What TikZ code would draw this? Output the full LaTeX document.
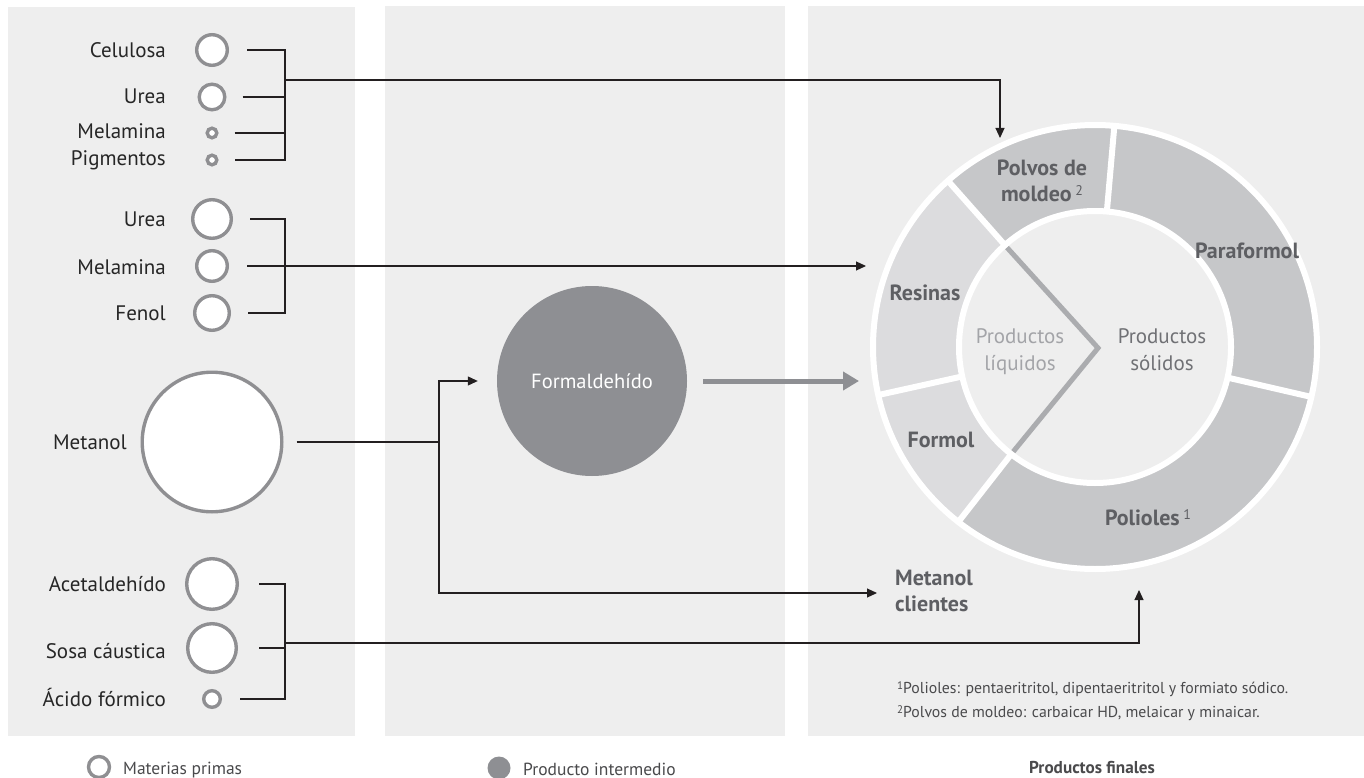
\documentclass[tikz,border=0pt]{standalone}
\usepackage{fontspec}
\setmainfont{PT Sans}
\usetikzlibrary{calc,arrows.meta}
\definecolor{panel}{HTML}{EEEEEE}
\definecolor{ringgray}{HTML}{8F8F92}
\definecolor{midgray}{HTML}{8E8F93}
\definecolor{segdark}{HTML}{C6C7C9}
\definecolor{seglight}{HTML}{DCDCDE}
\definecolor{chev}{HTML}{ABACAF}
\definecolor{labeldark}{HTML}{262626}
\definecolor{seglabel}{HTML}{5E5F63}
\definecolor{liqgray}{HTML}{A3A4A8}
\definecolor{solgray}{HTML}{707175}
\definecolor{footgray}{HTML}{4A4A4C}
\definecolor{linecol}{HTML}{231F20}
\newcommand\ringsup[1]{\raisebox{6pt}{\fontsize{14}{14}\selectfont\mdseries #1}}
\newcommand\footsup[1]{\raisebox{4pt}{\fontsize{11}{11}\selectfont #1}}
\begin{document}
\begin{tikzpicture}[x=1pt,y=1pt,
  raw/.style={circle, draw=ringgray, line width=3.4pt, fill=white, inner sep=0pt, minimum size=#1},
  lab/.style={anchor=base east, inner sep=0pt, text=labeldark, font=\fontsize{21}{24}\selectfont},
  conn/.style={draw=linecol, line width=1.1pt},
  arr/.style={conn, -{Triangle[length=10pt,width=9pt]}},
  seglab/.style={inner sep=0pt, text=seglabel, font=\bfseries\fontsize{22}{26}\selectfont, align=center},
  inlab/.style={inner sep=0pt, font=\fontsize{21}{27}\selectfont, align=center},
  divider/.style={white, line width=6pt},
  foot/.style={anchor=base west, inner sep=0pt, text=footgray, font=\fontsize{15.8}{18}\selectfont},
  leg/.style={anchor=base west, inner sep=0pt, text=footgray, font=\fontsize{17.5}{18}\selectfont}]
\useasboundingbox (0,0) rectangle (1364,-778);
\fill[white] (0,0) rectangle (1364,-778);
\fill[panel] (8,-7) rectangle (355,-736);
\fill[panel] (385,-6) rectangle (785,-736);
\fill[panel] (808,-6) rectangle (1364,-736);

% raw materials
\node[raw=30.6pt] (cel) at (212,-50) {};
\node[raw=25.6pt] (ure1) at (212,-97) {};
\node[raw=9.6pt] (mel1) at (212,-133) {};
\node[raw=9.6pt] (pig) at (212,-160) {};
\node[raw=38.6pt] (ure2) at (212,-219) {};
\node[raw=30.6pt] (mel2) at (212,-266) {};
\node[raw=34.6pt] (fen) at (212,-313) {};
\node[raw=139.6pt] (met) at (212,-442) {};
\node[raw=50.6pt] (ace) at (212,-584) {};
\node[raw=48.6pt] (sos) at (212,-648) {};
\node[raw=16.6pt] (aci) at (212,-699) {};

\node[lab] (lcel) at (166,-58) {Celulosa};
\node[lab] (lure1) at (166,-104) {Urea};
\node[lab] (lmel1) at (166,-139) {Melamina};
\node[lab] (lpig) at (166,-166) {Pigmentos};
\node[lab] (lure2) at (166,-226) {Urea};
\node[lab] (lmel2) at (166,-274) {Melamina};
\node[lab] (lfen) at (166,-320) {Fenol};
\node[lab] (lmet) at (127,-449) {Metanol};
\node[lab] (lace) at (166,-591) {Acetaldehído};
\node[lab] (lsos) at (166,-658) {Sosa cáustica};
\node[lab] (laci) at (166,-706) {Ácido fórmico};

% intermediate
\node[circle, fill=midgray, minimum size=190pt, inner sep=0pt, text=white, font=\fontsize{20.5}{24}\selectfont] (form) at (592,-381) {Formaldehído};

% ring
\coordinate (c) at (1095,-347);
\fill[segdark] (c) circle[radius=222pt];
\fill[seglight] (c) -- ($(c)+(131.5:222pt)$) arc[start angle=131.5, end angle=232, radius=222pt] -- cycle;
\draw[white, line width=6pt] (c) circle[radius=222pt];
\fill[panel] (c) circle[radius=136pt];
\coordinate (tip) at (1098,-348);
\draw[chev, line width=5pt] ($(c)+(131.5:133pt)$) -- (tip) -- ($(c)+(232:133pt)$);
\draw[white, line width=6pt] (c) circle[radius=136pt];
\foreach \a in {85,-13,232,192.5,131.5} \draw[divider] ($(c)+(\a:136pt)$) -- ($(c)+(\a:222pt)$);

\node[inlab, text=liqgray] (pliq) at (1020,-352) {Productos\\líquidos};
\node[inlab, text=solgray] (psol) at (1162,-350) {Productos\\sólidos};
\node[seglab] (spol) at (1042,-181) {Polvos de\\moldeo\,\ringsup{2}};
\node[seglab] (spar) at (1247,-251) {Paraformol};
\node[seglab] (sres) at (925,-293) {Resinas};
\node[seglab] (sfor) at (941,-440) {Formol};
\node[seglab] (spoli) at (1148,-518) {Polioles\,\ringsup{1}};
\node[seglab, anchor=west, align=left] (mcli) at (895,-590.5) {Metanol\\clientes};

% connectors group 1
\coordinate (b1) at (285,-80);
\draw[conn] ([xshift=18pt]cel.east) -- (cel.east -| b1) -- (pig.east -| b1) -- ([xshift=16pt]pig.east);
\draw[conn] ([xshift=16pt]ure1.east) -- (ure1.east -| b1);
\draw[conn] ([xshift=16pt]mel1.east) -- (mel1.east -| b1);
\coordinate (t1) at (1000,-138);
\draw[arr] (b1) -- (b1 -| t1) -- (t1);

% group 2
\coordinate (b2) at (285,-266);
\draw[conn] ([xshift=17pt]ure2.east) -- (ure2.east -| b2) -- (fen.east -| b2) -- ([xshift=17pt]fen.east);
\coordinate (t2) at (866,-266);
\draw[arr] ([xshift=18pt]mel2.east) -- (t2);

% metanol
\coordinate (j) at (439,-442);
\draw[conn] ([xshift=13pt]met.east) -- (j);
\draw[arr] (j) -- (j |- form.west) -- ([xshift=-19pt]form.west);
\coordinate (tmc) at (877,-593);
\draw[arr] (j) -- (j |- tmc) -- (tmc);

% formaldehido to ring
\coordinate (t3) at (859,-381);
\draw[midgray, line width=5pt, -{Triangle[length=16pt,width=18pt]}] ([xshift=16pt]form.east) -- (t3);

% group 3
\coordinate (b3) at (285,-643);
\draw[conn] ([xshift=20pt]ace.east) -- (ace.east -| b3) -- (aci.east -| b3) -- ([xshift=18pt]aci.east);
\draw[conn] ([xshift=21pt]sos.east) -- (sos.east -| b3);
\coordinate (t4) at (1139,-590);
\draw[arr] (b3) -- (b3 -| t4) -- (t4);

% footnotes
\node[foot] (fn1) at (897,-693) {\footsup{1}Polioles: pentaeritritol, dipentaeritritol y formiato sódico.};
\node[foot] (fn2) at (897,-717) {\footsup{2}Polvos de moldeo: carbaicar HD, melaicar y minaicar.};

% legend
\node[circle, draw=ringgray, line width=3.4pt, fill=white, minimum size=21pt, inner sep=0pt] (legraw) at (99,-767) {};
\node[leg] (legrawt) at (123,-774) {Materias primas};
\node[circle, fill=midgray, minimum size=23pt, inner sep=0pt] (legint) at (499,-768) {};
\node[leg] (leginttxt) at (523,-775) {Producto intermedio};
\node[anchor=base, inner sep=0pt, text=footgray, font=\bfseries\fontsize{17.2}{18}\selectfont] (legfin) at (1092,-773) {Productos finales};
\end{tikzpicture}
\end{document}
